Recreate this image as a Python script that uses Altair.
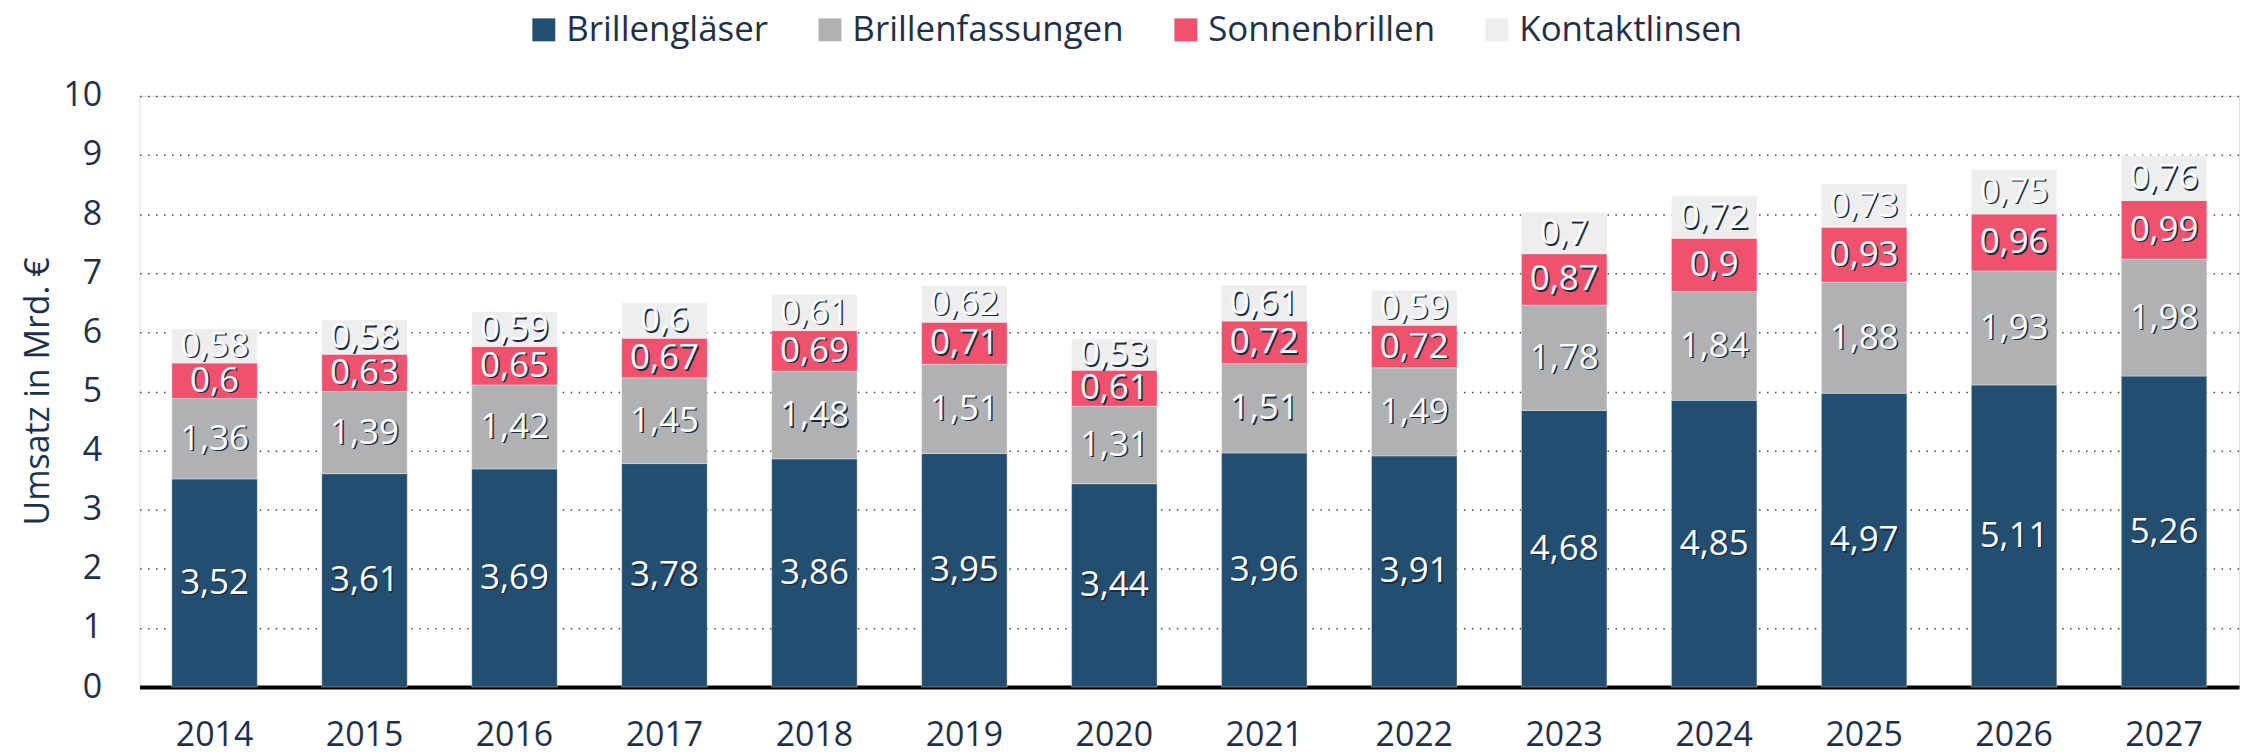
import altair as alt
import pandas as pd

years = ["2014", "2015", "2016", "2017", "2018", "2019", "2020",
         "2021", "2022", "2023", "2024", "2025", "2026", "2027"]
categories = ["Brillengläser", "Brillenfassungen", "Sonnenbrillen", "Kontaktlinsen"]
colors = ["#234e6f", "#b0b1b3", "#f0526d", "#eeeeee"]

brillenglaeser = [3.52, 3.61, 3.69, 3.78, 3.86, 3.95, 3.44, 3.96, 3.91, 4.68, 4.85, 4.97, 5.11, 5.26]
brillenfassungen = [1.36, 1.39, 1.42, 1.45, 1.48, 1.51, 1.31, 1.51, 1.49, 1.78, 1.84, 1.88, 1.93, 1.98]
sonnenbrillen = [0.6, 0.63, 0.65, 0.67, 0.69, 0.71, 0.61, 0.72, 0.72, 0.87, 0.9, 0.93, 0.96, 0.99]
kontaktlinsen = [0.58, 0.58, 0.59, 0.6, 0.61, 0.62, 0.53, 0.61, 0.59, 0.7, 0.72, 0.73, 0.75, 0.76]

series = [brillenglaeser, brillenfassungen, sonnenbrillen, kontaktlinsen]
rows = []
for ci, (cat, vals) in enumerate(zip(categories, series)):
    for y, v in zip(years, vals):
        rows.append({"year": y, "cat": cat, "idx": ci, "value": v,
                     "label": str(v).replace(".", ",")})
df = pd.DataFrame(rows)

FONT = "Open Sans"
TXT = "#1f3049"
FS = 34
FS_LEG = 35
FS_BAR = 35

base = alt.Chart(df).transform_stack(
    stack="value", groupby=["year"], as_=["y0", "y1"],
    sort=[alt.SortField("idx", order="ascending")]
).transform_calculate(mid="(datum.y0 + datum.y1) / 2")

x_enc = alt.X("year:N", sort=years, title=None,
              scale=alt.Scale(paddingInner=0.43, paddingOuter=0.215),
              axis=alt.Axis(labelAngle=0, labelFontSize=FS, labelColor=TXT, labelFont=FONT,
                            ticks=False, tickSize=0, labelPadding=32,
                            domain=True, domainColor="#000000", domainWidth=4, grid=False))

bars = base.mark_bar(stroke="#ffffff", strokeWidth=0.6, strokeOpacity=0.6).encode(
    x=x_enc,
    y=alt.Y("y0:Q", scale=alt.Scale(domain=[0, 10], nice=False),
            axis=alt.Axis(values=list(range(0, 11)), format="d", labelFontSize=FS,
                          labelColor=TXT, labelFont=FONT, ticks=False, tickSize=0,
                          labelPadding=38, domain=False, grid=True, gridColor="#444444",
                          gridWidth=1.5, gridDash=[1.5, 6.5],
                          title="Umsatz in Mrd. €", titleFontSize=FS, titleFont=FONT,
                          titleFontWeight="normal", titleColor=TXT,
                          titleAngle=270, titleAlign="center", titleBaseline="middle",
                          titleX=-101, titleY=296)),
    y2="y1:Q",
    color=alt.Color("cat:N", sort=categories,
                    scale=alt.Scale(domain=categories, range=colors),
                    legend=alt.Legend(orient="none", legendX=388, legendY=-84,
                                      direction="horizontal", title=None,
                                      symbolType="square", symbolSize=529,
                                      symbolStrokeWidth=0, symbolOpacity=1,
                                      labelFontSize=FS_LEG, labelFont=FONT, labelColor=TXT,
                                      labelLimit=500, labelOffset=5, columnPadding=44)),
    order=alt.Order("idx:Q"),
)

shadow = base.mark_text(fontSize=FS_BAR, font=FONT, color="#1a2a40", dx=1.5, dy=1.5,
                        baseline="middle", align="center").encode(
    x=alt.X("year:N", sort=years),
    y=alt.Y("mid:Q"),
    text="label:N",
)
labels = base.mark_text(fontSize=FS_BAR, font=FONT, color="#ffffff",
                        baseline="middle", align="center").encode(
    x=alt.X("year:N", sort=years),
    y=alt.Y("mid:Q"),
    text="label:N",
)

chart = alt.layer(bars, shadow, labels).properties(
    width=2106, height=593,
    autosize=alt.AutoSizeParams(type="none"),
    padding={"left": 132, "top": 87, "right": 10, "bottom": 68},
).configure_view(stroke=None).configure(font=FONT)

chart.save("out.html", embed_options={"renderer": "svg", "actions": False})
